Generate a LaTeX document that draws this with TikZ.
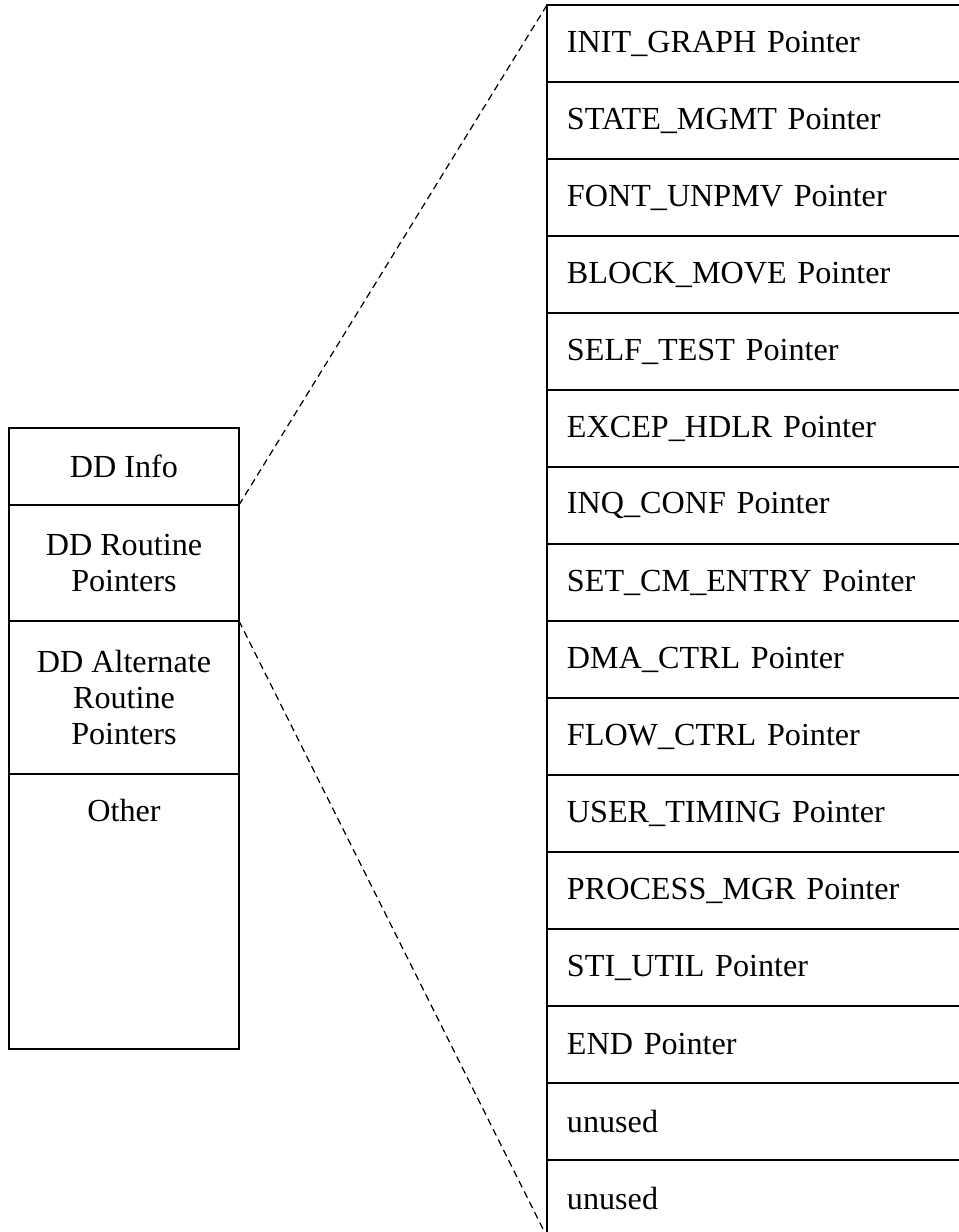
\documentclass[tikz,border=0pt]{standalone}
\usepackage{fontspec}
\setmainfont{Liberation Serif}
\usetikzlibrary{positioning}

\begin{document}
\begin{tikzpicture}[x=0.02cm,y=-0.02cm,
  font=\fontsize{18.3}{20.5}\selectfont,
  cell/.style={draw,line width=1pt,outer sep=0pt,inner sep=0pt,minimum width=4.6cm,align=center},
  slot/.style={draw,line width=1pt,outer sep=0pt,inner xsep=0.4cm,inner ysep=0pt,minimum height=1.54cm,text width=8.0cm,align=left,anchor=north west},
  link/.style={dash pattern=on 4pt off 2.6pt,line width=0.7pt}]
  \useasboundingbox (0,0) rectangle (959,1232);
  \clip (0,0) rectangle (959,1232);

  \node[cell,minimum height=1.54cm,anchor=north west] (info) at (9,428) {DD Info};
  \node[cell,minimum height=2.32cm,below=0pt of info] (routine) {DD Routine\\Pointers};
  \node[cell,minimum height=3.06cm,below=0pt of routine] (alternate) {DD Alternate\\Routine\\Pointers};
  \node[cell,minimum height=5.5cm,below=0pt of alternate,
    label={[anchor=north,inner sep=0pt,yshift=-0.5cm]north:Other}] (other) {};

  \foreach \name [count=\i] in {INIT\_GRAPH Pointer,STATE\_MGMT Pointer,FONT\_UNPMV Pointer,
      BLOCK\_MOVE Pointer,SELF\_TEST Pointer,EXCEP\_HDLR Pointer,INQ\_CONF Pointer,
      SET\_CM\_ENTRY Pointer,DMA\_CTRL Pointer,FLOW\_CTRL Pointer,USER\_TIMING Pointer,
      PROCESS\_MGR Pointer,STI\_UTIL Pointer,END Pointer,unused,unused}
    \node[slot] (slot\i) at (547,{5+77*(\i-1)}) {\name};

  \draw[link] (info.south east) -- (slot1.north west);
  \draw[link] (routine.south east) -- (slot16.south west);
\end{tikzpicture}
\end{document}
